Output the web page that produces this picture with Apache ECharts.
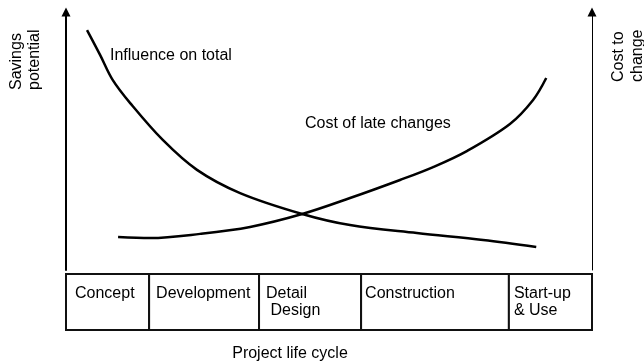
<!DOCTYPE html>
<html>
<head>
<meta charset="utf-8">
<script src="https://cdn.jsdelivr.net/npm/echarts@6/dist/echarts.min.js"></script>
<style>
html,body{margin:0;padding:0;background:#fff;}
#chart{width:644px;height:362px;}
</style>
</head>
<body>
<div id="chart"></div>
<script>
// ---- data ----
const stages = ['Concept', 'Development', 'Detail\n Design', 'Construction', 'Start-up\n& Use'];
const stageStart = [0, 15.8, 36.7, 56.1, 84.2];
const stageEnd = [15.8, 36.7, 56.1, 84.2, 100];
const influenceX = [4.0, 6.5, 8.9, 12.2, 18.4, 24.9, 33.1, 44.9, 54.0, 66.7, 79.3, 89.4];
const influenceY = [93.0, 83.3, 73.6, 64.7, 50.4, 38.8, 29.8, 21.7, 17.4, 14.3, 11.6, 8.9];
const costX = [9.9, 16.0, 25.5, 35.0, 44.9, 54.0, 63.5, 69.8, 76.2, 84.4, 88.8, 91.3];
const costY = [12.8, 12.4, 14.0, 16.7, 21.7, 27.9, 34.9, 39.9, 46.1, 56.6, 65.9, 74.4];
const curveNames = ['Influence on total', 'Cost of late changes'];
const leftAxisName = 'Savings\npotential';
const rightAxisName = 'Cost to\nchange';
const xAxisName = 'Project life cycle';

// ---- styles ----
const FONT = '"Liberation Sans", Arial, sans-serif';
const labelPad = [9, 7, 7, 4, 5];

const chart = echarts.init(document.getElementById('chart'), null, {renderer: 'canvas'});

const zip = (xs, ys) => xs.map((x, i) => [x, ys[i]]);

const option = {
  animation: false,
  backgroundColor: '#fff',
  grid: [
    {left: 66, right: 52, top: 12, bottom: 92},
    {left: 66, right: 52, top: 274, bottom: 32}
  ],
  xAxis: [
    {gridIndex: 0, type: 'value', min: 0, max: 100, show: false},
    {gridIndex: 1, type: 'value', min: 0, max: 100, show: false}
  ],
  yAxis: [
    {gridIndex: 0, type: 'value', min: 0, max: 100, position: 'left',
     axisLine: {show: true, lineStyle: {color: '#000', width: 2}, symbol: ['none', 'triangle'], symbolSize: [9, 9]},
     axisTick: {show: false}, axisLabel: {show: false}, splitLine: {show: false}},
    {gridIndex: 0, type: 'value', min: 0, max: 100, position: 'right',
     axisLine: {show: true, onZero: false, lineStyle: {color: '#000', width: 1}, symbol: ['none', 'triangle'], symbolSize: [9, 9]},
     axisTick: {show: false}, axisLabel: {show: false}, splitLine: {show: false}},
    {gridIndex: 1, type: 'value', min: 0, max: 1, show: false}
  ],
  series: [
    {type: 'line', name: curveNames[0], xAxisIndex: 0, yAxisIndex: 0,
     data: zip(influenceX, influenceY), smooth: 0.35,
     showSymbol: false, symbol: 'none', lineStyle: {color: '#000', width: 2.5}},
    {type: 'line', name: curveNames[1], xAxisIndex: 0, yAxisIndex: 0,
     data: zip(costX, costY), smooth: 0.35,
     showSymbol: false, symbol: 'none', lineStyle: {color: '#000', width: 2.5}},
    {type: 'custom', xAxisIndex: 1, yAxisIndex: 2,
     data: stages.map((s, i) => [stageStart[i], stageEnd[i], i]),
     renderItem: function (params, api) {
       const i = params.dataIndex;
       const p0 = api.coord([api.value(0), 1]);
       const p1 = api.coord([api.value(1), 0]);
       return {
         type: 'group',
         children: [
           {type: 'rect', shape: {x: p0[0], y: p0[1], width: p1[0] - p0[0], height: p1[1] - p0[1]},
            style: {fill: '#fff', stroke: '#111', lineWidth: 2}},
           {type: 'text', style: {text: stages[i], x: p0[0] + labelPad[i], y: p0[1] + 11.5,
            verticalAlign: 'top', align: 'left', font: '16px ' + FONT, lineHeight: 17, fill: '#000'}}
         ]
       };
     }}
  ],
  graphic: [
    {type: 'text', left: 110, top: 48, style: {text: curveNames[0], font: '16px ' + FONT, fill: '#000'}},
    {type: 'text', left: 305, top: 116, style: {text: curveNames[1], font: '16px ' + FONT, fill: '#000'}},
    {type: 'text', x: 26, y: 90, rotation: Math.PI / 2,
     style: {text: leftAxisName, font: '16px ' + FONT, fill: '#000', align: 'left', verticalAlign: 'middle', lineHeight: 18}},
    {type: 'text', x: 628, y: 82, rotation: Math.PI / 2,
     style: {text: rightAxisName, font: '16px ' + FONT, fill: '#000', align: 'left', verticalAlign: 'middle', lineHeight: 19}},
    {type: 'text', x: 290, y: 354,
     style: {text: xAxisName, font: '16px ' + FONT, fill: '#000', align: 'center', verticalAlign: 'middle'}}
  ]
};
chart.setOption(option);
</script>
</body>
</html>
